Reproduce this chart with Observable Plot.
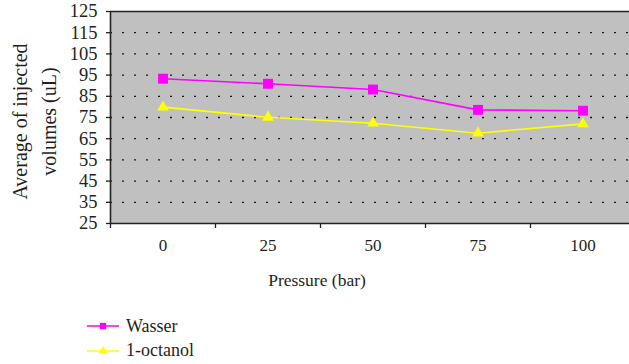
<!DOCTYPE html>
<html><head><meta charset="utf-8">
<script src="https://cdn.jsdelivr.net/npm/d3@7"></script>
<script src="https://cdn.jsdelivr.net/npm/@observablehq/plot@0.6"></script>
<style>
body{margin:0;background:#fff;font-family:"Liberation Serif","Times New Roman",Times,"DejaVu Serif",serif;color:#231f20}
#wrap{position:relative;width:629px;height:364px;overflow:hidden}
#wrap svg.plot{display:block}
#wrap svg.plot text{font-family:"Liberation Serif","Times New Roman",Times,"DejaVu Serif",serif}
.xlabel{position:absolute;left:0;width:634px;top:268px;text-align:center;font-size:17.5px;line-height:24px}
.leg{position:absolute;left:87px;height:20px;display:flex;align-items:center;font-size:18px}
.leg svg{margin-right:7px}
</style></head><body><div id="wrap"></div>
<script>
const pressures = [0, 25, 50, 75, 100];
const wasser = [93.3, 90.9, 88.2, 78.6, 78.2];
const octanol = [79.9, 75.1, 72.3, 67.6, 72.0];
const yTicks = [25, 35, 45, 55, 65, 75, 85, 95, 105, 115, 125];
const seriesNames = ["Wasser", "1-octanol"];
const seriesColors = ["#ff00ff", "#ffff00"];
const seriesSymbols = ["square", "triangle"];
const seriesR = [5.6, 4.3];
const yLabel = "Average of injected\nvolumes (uL)";
const xLabel = "Pressure (bar)";

const seriesValues = [wasser, octanol];
const step = pressures[1] - pressures[0];
const xDomain = [pressures[0] - step / 2, pressures[pressures.length - 1] + step / 2];
const boundaries = d3.range(pressures.length + 1).map(i => xDomain[0] + i * step);
const gridTicks = yTicks.slice(1, -1);

const seriesMarks = seriesNames.flatMap((name, k) => {
  const rows = pressures.map((p, i) => ({pressure: p, value: seriesValues[k][i]}));
  return [
    Plot.line(rows, {x: "pressure", y: "value", stroke: seriesColors[k], strokeWidth: 1.6}),
    Plot.dot(rows, {x: "pressure", y: "value", fill: seriesColors[k], stroke: "none", symbol: seriesSymbols[k], r: seriesR[k]})
  ];
});

const chart = Plot.plot({
  width: 629, height: 300,
  marginTop: 11, marginBottom: 77, marginLeft: 110, marginRight: -6,
  style: {color: "#231f20", background: "transparent", overflow: "hidden"},
  x: {type: "linear", domain: xDomain},
  y: {domain: [yTicks[0], yTicks[yTicks.length - 1]]},
  marks: [
    Plot.frame({fill: "#c0c0c0", stroke: "none"}),
    Plot.ruleY(gridTicks, {stroke: "#1a1a1a", strokeWidth: 1.3, strokeDasharray: "2,10"}),
    Plot.ruleY([yTicks[0], yTicks[yTicks.length - 1]], {stroke: "#222", strokeWidth: 1.6}),
    Plot.ruleX([xDomain[0]], {stroke: "#222", strokeWidth: 1.6}),
    Plot.axisY({ticks: yTicks, tickSize: 4, tickPadding: 9, fontSize: 18.5, label: null, strokeWidth: 1.3}),
    Plot.axisX({ticks: boundaries, tickSize: 5, tickFormat: () => "", label: null, strokeWidth: 1.3}),
    Plot.axisX({ticks: pressures, tickSize: 0, tickPadding: 15, fontSize: 17, label: null}),
    ...seriesMarks,
    Plot.text([yLabel], {frameAnchor: "left", textAnchor: "middle", lineAnchor: "middle", rotate: -90, dx: -78, dy: 4, fontSize: 20, lineHeight: 1.45, fill: "#231f20"})
  ]
});
chart.classList.add("plot");
const wrap = document.getElementById("wrap");
wrap.appendChild(chart);

const xl = document.createElement("div");
xl.className = "xlabel";
xl.textContent = xLabel;
wrap.appendChild(xl);

seriesNames.forEach((name, k) => {
  const item = d3.select(wrap).append("div").attr("class", "leg").style("top", (316 + k * 24.5) + "px");
  const s = item.append("svg").attr("width", 32).attr("height", 14);
  s.append("line").attr("x1", 0).attr("x2", 32).attr("y1", 7).attr("y2", 7).attr("stroke", seriesColors[k]).attr("stroke-width", 1.5);
  s.append("path").attr("transform", "translate(16,7)")
    .attr("d", d3.symbol(k === 0 ? d3.symbolSquare : d3.symbolTriangle, k === 0 ? 40 : 34)())
    .attr("fill", seriesColors[k]);
  item.append("span").text(name);
});
</script></body></html>
